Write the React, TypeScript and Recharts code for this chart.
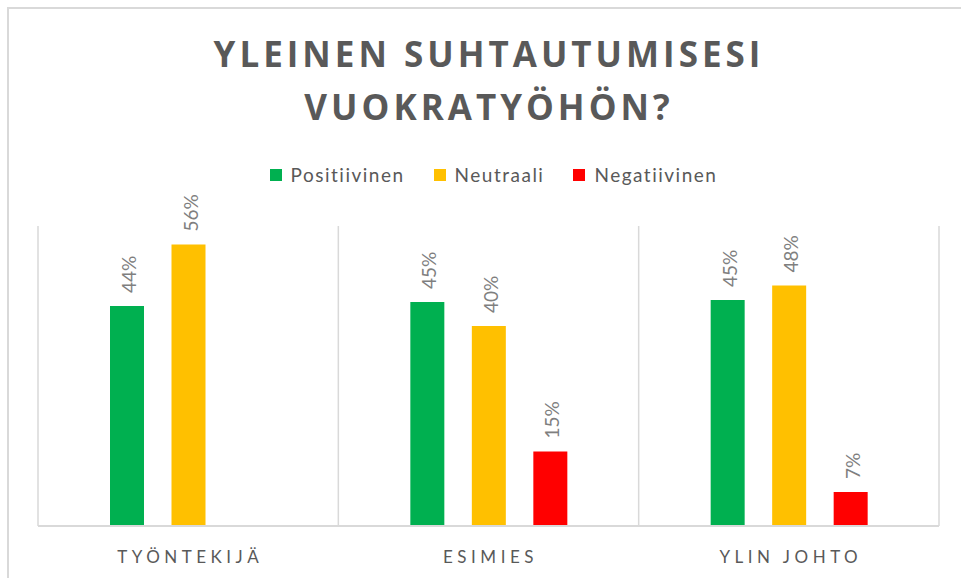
import React from 'react';
import { BarChart, Bar, XAxis, YAxis, CartesianGrid, Legend, LabelList } from 'recharts';

const categories = ['TYÖNTEKIJÄ', 'ESIMIES', 'YLIN JOHTO'];
const positiivinen = [44.0, 44.8, 45.2];
const neutraali = [56.3, 40.0, 48.1];
const negatiivinen = [0, 14.9, 6.8];
const seriesNames = ['Positiivinen', 'Neutraali', 'Negatiivinen'];
const seriesColors = ['#00B050', '#FFC000', '#FF0000'];
const titleLines = ['YLEINEN SUHTAUTUMISESI', 'VUOKRATYÖHÖN?'];

const data = categories.map((name, i) => ({
  name,
  pos: positiivinen[i],
  neu: neutraali[i],
  neg: negatiivinen[i],
}));

const BarLabel = (props: any) => {
  const { x, y, width, value } = props;
  if (!value) return null;
  const lx = x + width / 2 + 9;
  const ly = y - 13;
  return (
    <text x={lx} y={ly} transform={`rotate(-90 ${lx} ${ly})`} fill="#7f7f7f" fontSize={19} fontFamily="Lato" textAnchor="start">
      {Math.round(value)}%
    </text>
  );
};

const CategoryTick = (props: any) => {
  const { x, y, payload } = props;
  return (
    <text x={x + 2} y={y + 37} textAnchor="middle" fill="#595959" fontSize={17} fontFamily="Lato" letterSpacing={4.5}>
      {payload.value}
    </text>
  );
};

// order as in the original legend, not alphabetical
const LegendContent = () => (
  <div style={{ display: 'flex', justifyContent: 'center', fontFamily: 'Lato', fontSize: 19, lineHeight: '23px', color: '#595959', letterSpacing: 1.5 }}>
    {seriesNames.map((n, i) => (
      <span key={n} style={{ display: 'flex', alignItems: 'center', marginLeft: i ? 29 : 0 }}>
        <span style={{ width: 12, height: 12, background: seriesColors[i], marginRight: 9 }} />
        {n}
      </span>
    ))}
  </div>
);

export default function App() {
  return (
    <div style={{ position: 'fixed', left: 0, top: 0, width: 961, height: 578, overflow: 'hidden', background: '#fff' }}>
      <div style={{ position: 'absolute', left: 7, top: 7, width: 1000, height: 600, borderTop: '2px solid #d9d9d9', borderLeft: '2px solid #d9d9d9' }} />
      <div style={{ position: 'absolute', left: 0, top: 27, width: 978, textAlign: 'center', fontFamily: 'Open Sans', fontWeight: 700, fontSize: 35, lineHeight: '53px', letterSpacing: 4, color: '#595959' }}>
        {titleLines.map((t) => (
          <div key={t}>{t}</div>
        ))}
      </div>
      <div style={{ position: 'absolute', left: 0, top: 0 }}>
        <BarChart width={961} height={578} data={data} margin={{ top: 226, right: 22, left: 38, bottom: 0 }} barSize={34} barGap={27.5}>
          <CartesianGrid
            horizontal={false}
            stroke="#d9d9d9"
            strokeWidth={1.5}
            verticalCoordinatesGenerator={({ offset }: any) =>
              categories.map((_, i) => offset.left + (i * offset.width) / categories.length).concat(offset.left + offset.width)
            }
          />
          <XAxis dataKey="name" height={52} tickSize={0} tickMargin={0} axisLine={{ stroke: '#d9d9d9', strokeWidth: 2 }} tickLine={false} tick={<CategoryTick />} />
          <YAxis hide domain={[0, 60]} />
          <Legend
            verticalAlign="middle"
            align="center"
            layout="horizontal"
            content={<LegendContent />}
            wrapperStyle={{ top: 163, left: 0, width: 987 }}
          />
          <Bar dataKey="pos" name={seriesNames[0]} fill={seriesColors[0]} isAnimationActive={false}>
            <LabelList dataKey="pos" content={<BarLabel />} />
          </Bar>
          <Bar dataKey="neu" name={seriesNames[1]} fill={seriesColors[1]} isAnimationActive={false}>
            <LabelList dataKey="neu" content={<BarLabel />} />
          </Bar>
          <Bar dataKey="neg" name={seriesNames[2]} fill={seriesColors[2]} isAnimationActive={false}>
            <LabelList dataKey="neg" content={<BarLabel />} />
          </Bar>
        </BarChart>
      </div>
    </div>
  );
}
